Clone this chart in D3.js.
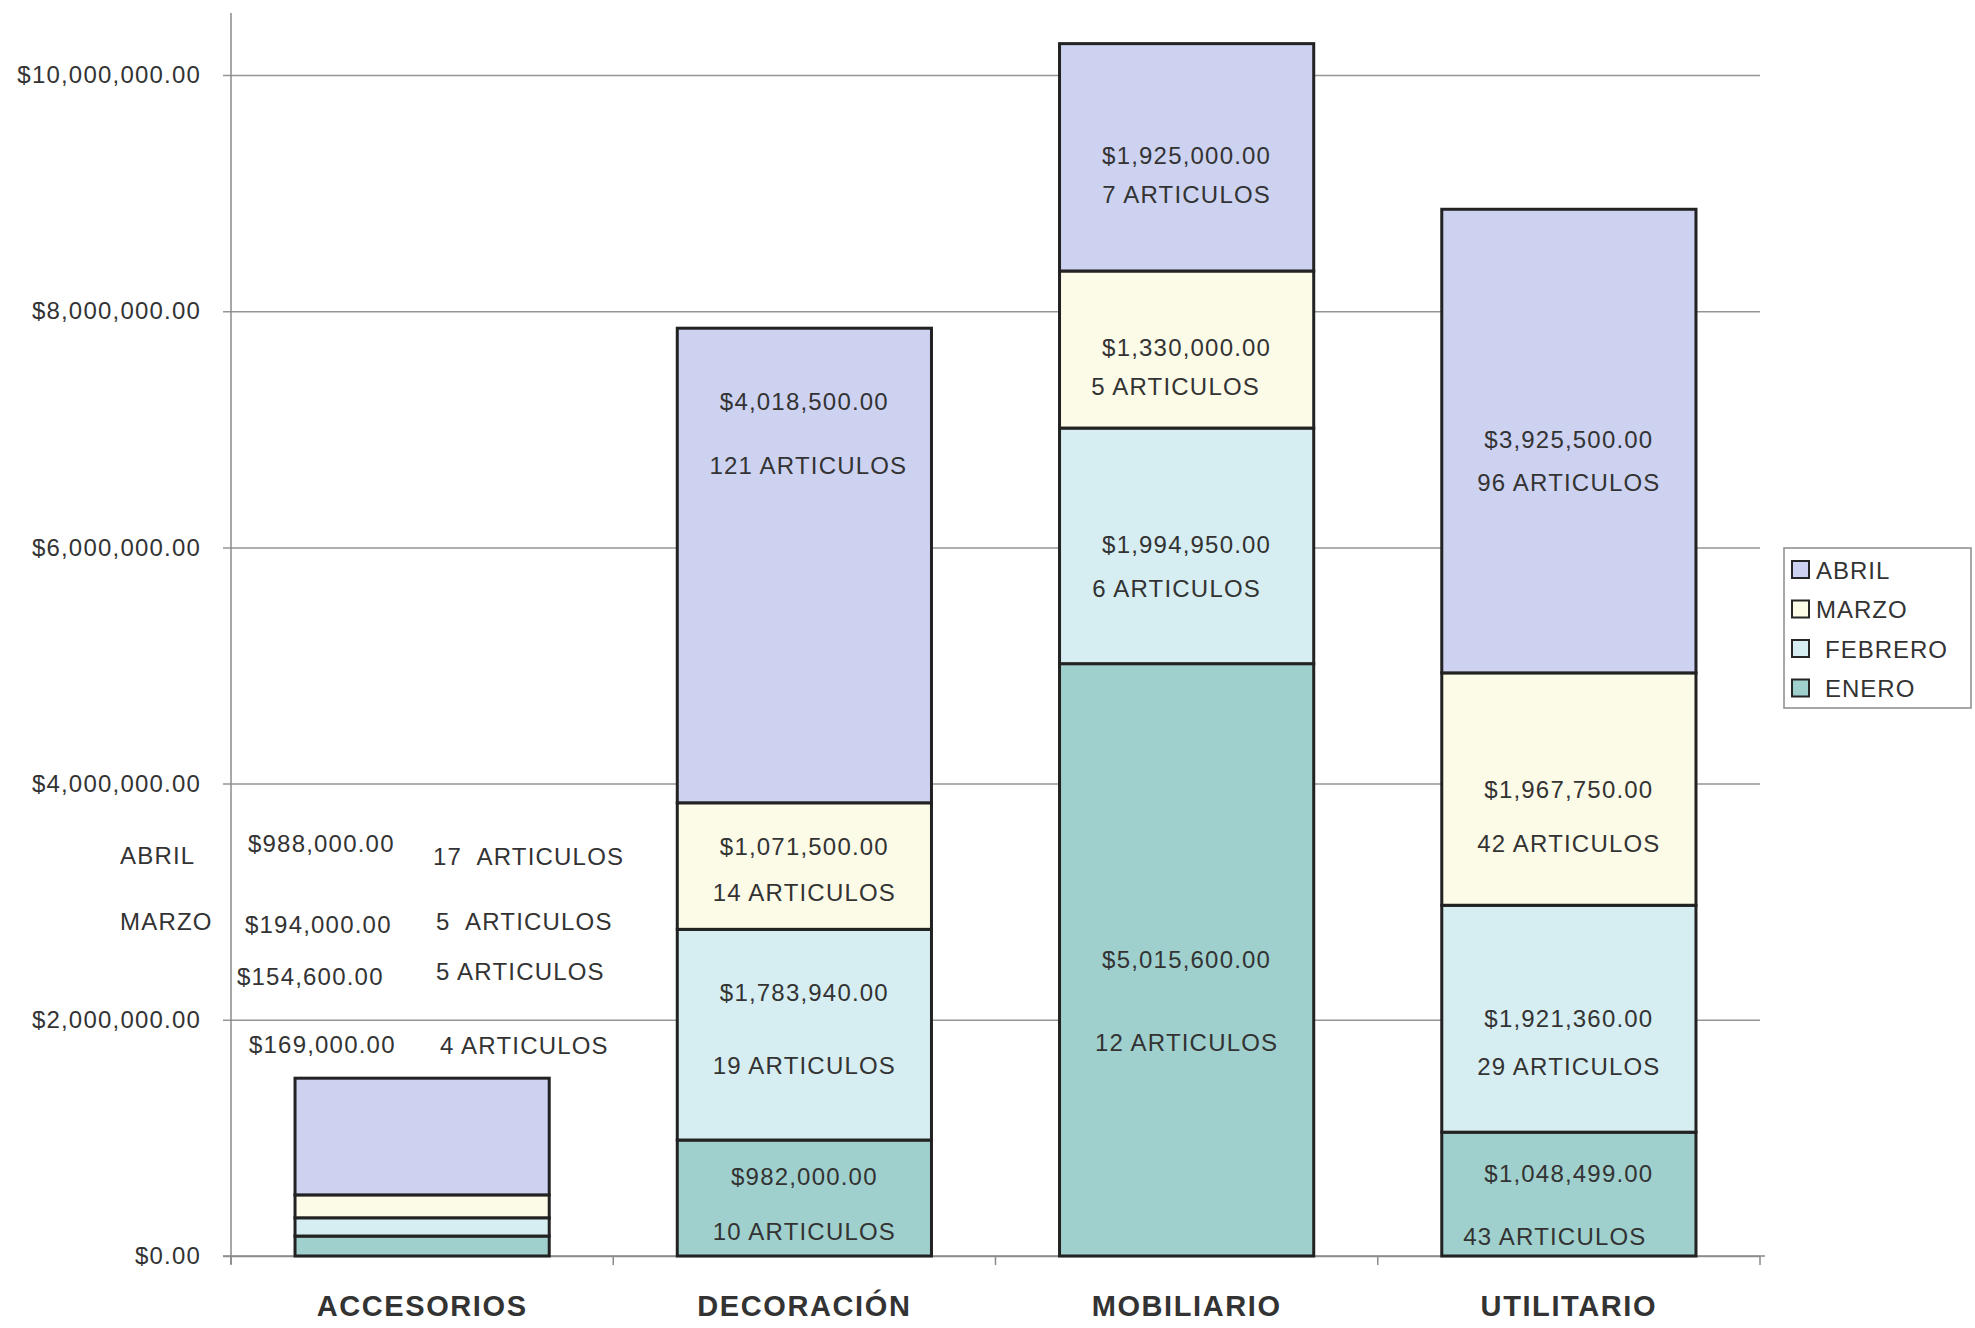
<!DOCTYPE html>
<meta charset="utf-8">
<html>
<head>
  <script src="https://d3js.org/d3.v7.min.js"></script>
  <style>
    body { margin: 0; background: #fff; }
    svg { font-family: "Liberation Sans", Arial, sans-serif; }
    text { fill: #333; white-space: pre; }
    .tick-label { font-size: 24px; letter-spacing: 1.2px; }
    .bar-label { font-size: 24px; letter-spacing: 1.2px; }
    .cat-label { font-size: 29px; font-weight: bold; letter-spacing: 1.6px; }
    .legend-label { font-size: 24px; letter-spacing: 1px; }
  </style>
</head>
<body>
  <svg width="1975" height="1328"></svg>

  <script>
    // data
    const categories = ["ACCESORIOS", "DECORACIÓN", "MOBILIARIO", "UTILITARIO"];
    const months = ["ENERO", "FEBRERO", "MARZO", "ABRIL"];
    const enero   = [169000, 982000, 5015600, 1048499];
    const febrero = [154600, 1783940, 1994950, 1921360];
    const marzo   = [194000, 1071500, 1330000, 1967750];
    const abril   = [988000, 4018500, 1925000, 3925500];
    const artEnero   = [4, 10, 12, 43];
    const artFebrero = [5, 19, 6, 29];
    const artMarzo   = [5, 14, 5, 42];
    const artAbril   = [17, 121, 7, 96];
    const yTicks = [0, 2000000, 4000000, 6000000, 8000000, 10000000];

    const colors = ["#9fd0cd", "#d6eef2", "#fcfbe8", "#cdd2f1"];

    const svg = d3.select("svg");
    const fmt = d3.format("$,.2f");

    const plotLeft = 231, plotRight = 1760, plotTop = 13, plotBottom = 1256;

    const x = d3.scaleBand()
        .domain(categories)
        .range([plotLeft, plotRight])
        .paddingInner(0.335)
        .paddingOuter(0.1675);

    const y = d3.scaleLinear()
        .domain([0, 10000000])
        .range([plotBottom, 75]);

    const rows = categories.map((c, i) => ({
      cat: c,
      ENERO: enero[i], FEBRERO: febrero[i], MARZO: marzo[i], ABRIL: abril[i]
    }));
    const counts = [artEnero, artFebrero, artMarzo, artAbril];
    const values = [enero, febrero, marzo, abril];
    const series = d3.stack().keys(months)(rows);

    // gridlines + y axis
    const yAxis = svg.append("g")
        .attr("transform", `translate(${plotLeft},0)`)
        .call(d3.axisLeft(y).tickValues(yTicks).tickSize(-(plotRight - plotLeft)).tickSizeOuter(0).tickFormat(fmt).tickPadding(30));
    yAxis.select(".domain").remove();
    yAxis.selectAll(".tick line")
        .attr("x1", -8)
        .attr("stroke", "#959595")
        .attr("stroke-width", 1.5);
    yAxis.selectAll(".tick text")
        .attr("class", "tick-label")
        .attr("fill", "#333");
    yAxis.attr("font-size", null).attr("font-family", null);

    svg.append("line")
        .attr("x1", plotLeft).attr("x2", plotLeft)
        .attr("y1", plotTop).attr("y2", plotBottom + 8)
        .attr("stroke", "#8a8a8a").attr("stroke-width", 1.5);

    // x axis ticks between categories
    const xEdges = categories.map(c => x(c) - x.step() * x.paddingInner() / 2).concat([plotRight]);
    svg.append("line")
        .attr("x1", plotLeft - 8).attr("x2", plotRight + 5)
        .attr("y1", plotBottom).attr("y2", plotBottom)
        .attr("stroke", "#8a8a8a").attr("stroke-width", 1.5);
    svg.selectAll(".xtick")
      .data(xEdges)
      .enter().append("line")
        .attr("x1", d => d).attr("x2", d => d)
        .attr("y1", plotBottom).attr("y2", plotBottom + 9)
        .attr("stroke", "#8a8a8a").attr("stroke-width", 1.5);

    // stacked bars
    svg.selectAll(".layer")
      .data(series)
      .enter().append("g")
        .attr("fill", (d, i) => colors[i])
      .selectAll("rect")
      .data(d => d)
      .enter().append("rect")
        .attr("x", d => x(d.data.cat))
        .attr("width", x.bandwidth())
        .attr("y", d => y(d[1]))
        .attr("height", d => y(d[0]) - y(d[1]))
        .attr("stroke", "#222")
        .attr("stroke-width", 3);

    // hand placed labels inside the bars: [dy value, dy articulos, dx articulos] from segment centre
    const labelNudge = {
      "DECORACIÓN": [[-22, 33, 0], [-42, 31, 0], [-20, 26, 0], [-164, -100, 4]],
      "MOBILIARIO": [[0, 83, 0], [-1, 43, -10], [-2, 37, -11], [-2, 37, 0]],
      "UTILITARIO": [[-21, 42, -14], [0, 48, 0], [0, 54, 0], [-2, 41, 0]]
    };

    series.forEach((s, m) => {
      s.forEach((seg, ci) => {
        const cat = categories[ci];
        const nudge = labelNudge[cat];
        if (!nudge) return;
        const cx = x(cat) + x.bandwidth() / 2;
        const cy = (y(seg[0]) + y(seg[1])) / 2;
        const [dv, da, dx] = nudge[m];
        svg.append("text")
            .attr("class", "bar-label")
            .attr("x", cx).attr("y", cy + dv)
            .attr("text-anchor", "middle")
            .attr("dominant-baseline", "central")
            .text(fmt(values[m][ci]));
        svg.append("text")
            .attr("class", "bar-label")
            .attr("x", cx + dx).attr("y", cy + da)
            .attr("text-anchor", "middle")
            .attr("dominant-baseline", "central")
            .text(counts[m][ci] + " ARTICULOS");
      });
    });

    // ACCESORIOS notes written above its bar
    const ax = x("ACCESORIOS");
    const accNotes = [
      {m: 3, name: true, y: 3490000, ny: 3390000, vx: -47, ax: 138, ay: 3380000, sep: "  "},
      {m: 2, name: true, y: 2810000, ny: 2830000, vx: -50, ax: 141, ay: 2830000, sep: "  "},
      {m: 1, name: false, y: 2370000, vx: -58, ax: 141, ay: 2410000, sep: " "},
      {m: 0, name: false, y: 1790000, vx: -46, ax: 145, ay: 1780000, sep: " "}
    ];
    accNotes.forEach(n => {
      if (n.name) {
        svg.append("text")
            .attr("class", "bar-label")
            .attr("x", ax - 175).attr("y", y(n.ny))
            .attr("dominant-baseline", "central")
            .text(months[n.m]);
      }
      svg.append("text")
          .attr("class", "bar-label")
          .attr("x", ax + n.vx).attr("y", y(n.y))
          .attr("dominant-baseline", "central")
          .text(fmt(values[n.m][0]));
      svg.append("text")
          .attr("class", "bar-label")
          .attr("x", ax + n.ax).attr("y", y(n.ay))
          .attr("dominant-baseline", "central")
          .text(counts[n.m][0] + n.sep + "ARTICULOS");
    });

    // category labels
    svg.selectAll(".cat-label")
      .data(categories)
      .enter().append("text")
        .attr("class", "cat-label")
        .attr("x", d => x(d) + x.bandwidth() / 2)
        .attr("y", 1306)
        .attr("text-anchor", "middle")
        .attr("dominant-baseline", "central")
        .text(d => d);

    // legend
    const legend = svg.append("g").attr("transform", "translate(1784,548)");
    legend.append("rect")
        .attr("width", 187).attr("height", 160)
        .attr("fill", "#fff")
        .attr("stroke", "#8a8a8a").attr("stroke-width", 1.5);
    const legendItems = months.slice().reverse();
    const item = legend.selectAll(".item")
      .data(legendItems)
      .enter().append("g")
        .attr("transform", (d, i) => `translate(0, ${21 + i * 39.5})`);
    item.append("rect")
        .attr("x", 8).attr("y", -8)
        .attr("width", 17).attr("height", 17)
        .attr("fill", d => colors[months.indexOf(d)])
        .attr("stroke", "#262626").attr("stroke-width", 2);
    item.append("text")
        .attr("class", "legend-label")
        .attr("x", d => (d === "ABRIL" || d === "MARZO") ? 32 : 41)
        .attr("y", 1)
        .attr("dominant-baseline", "central")
        .text(d => d);
  </script>
</body>
</html>
